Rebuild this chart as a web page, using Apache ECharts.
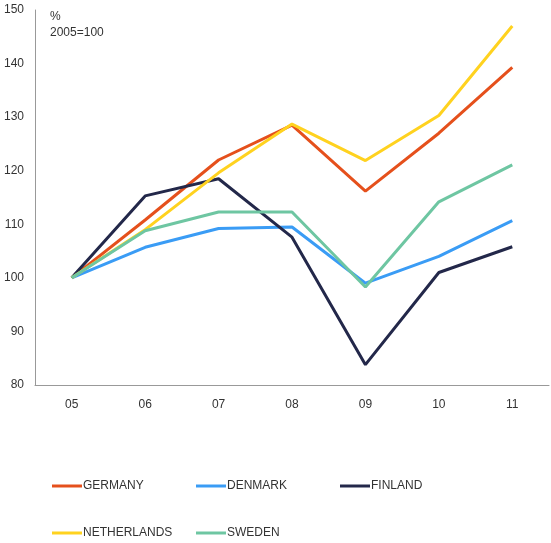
<!DOCTYPE html>
<html>
<head>
<meta charset="utf-8">
<script src="https://cdn.jsdelivr.net/npm/echarts@6/dist/echarts.min.js"></script>
<style>
  html, body { margin: 0; padding: 0; background: #fff; }
  #main { width: 551px; height: 543px; }
</style>
</head>
<body>
<div id="main"></div>
<script>
// 数据
var years = ['05', '06', '07', '08', '09', '10', '11'];
var germany = [100, 110.8, 122, 128.5, 116.2, 127, 139.3];
var denmark = [100, 105.7, 109.2, 109.5, 99, 104, 110.7];
var finland = [100, 115.3, 118.5, 107.6, 83.8, 101, 105.8];
var netherlands = [100, 109, 119.6, 128.7, 121.9, 130.3, 147];
var sweden = [100, 108.8, 112.3, 112.3, 98.3, 114.2, 121.1];

var names = ['GERMANY', 'DENMARK', 'FINLAND', 'NETHERLANDS', 'SWEDEN'];
var colors = ['#E5501C', '#3A9CF5', '#23284A', '#FFD21F', '#6EC6A2'];
var values = [germany, denmark, finland, netherlands, sweden];

var myChart = echarts.init(document.getElementById('main'));

// 图例位置
var legendPos = [
  { left: 52, top: 480 },
  { left: 196, top: 480 },
  { left: 340, top: 480 },
  { left: 52, top: 527 },
  { left: 196, top: 527 }
];

var legends = names.map(function (n, i) {
  return {
    data: [n],
    left: legendPos[i].left,
    top: legendPos[i].top,
    itemWidth: 30,
    itemHeight: 3,
    itemGap: 0,
    padding: 0,
    icon: 'rect',
    textStyle: { color: '#333', fontSize: 12, fontFamily: 'Liberation Sans', padding: [0, 0, 0, -4] }
  };
});

var series = names.map(function (n, i) {
  return {
    name: n,
    type: 'line',
    data: values[i],
    symbol: 'none',
    color: colors[i],
    lineStyle: { width: 3, color: colors[i] }
  };
});

var option = {
  backgroundColor: '#fff',
  animation: false,
  textStyle: { fontFamily: 'Liberation Sans' },
  graphic: [{
    type: 'text',
    left: 50,
    top: 9,
    style: { text: '%\n2005=100', fill: '#333', font: '12px "Liberation Sans"', lineHeight: 16 }
  }],
  legend: legends,
  grid: { left: 35, right: 2, top: 10, bottom: 158 },
  xAxis: {
    type: 'category',
    data: years,
    boundaryGap: true,
    axisLine: { lineStyle: { color: '#999', width: 1 } },
    axisTick: { show: false },
    axisLabel: { color: '#333', fontSize: 12, margin: 14 }
  },
  yAxis: {
    type: 'value',
    min: 80,
    max: 150,
    interval: 10,
    axisLine: { show: true, lineStyle: { color: '#999', width: 1 } },
    axisTick: { show: false },
    splitLine: { show: false },
    axisLabel: { color: '#333', fontSize: 12, margin: 11 }
  },
  series: series
};

if (option && typeof option === "object") {
  myChart.setOption(option, true);
}
</script>
</body>
</html>
